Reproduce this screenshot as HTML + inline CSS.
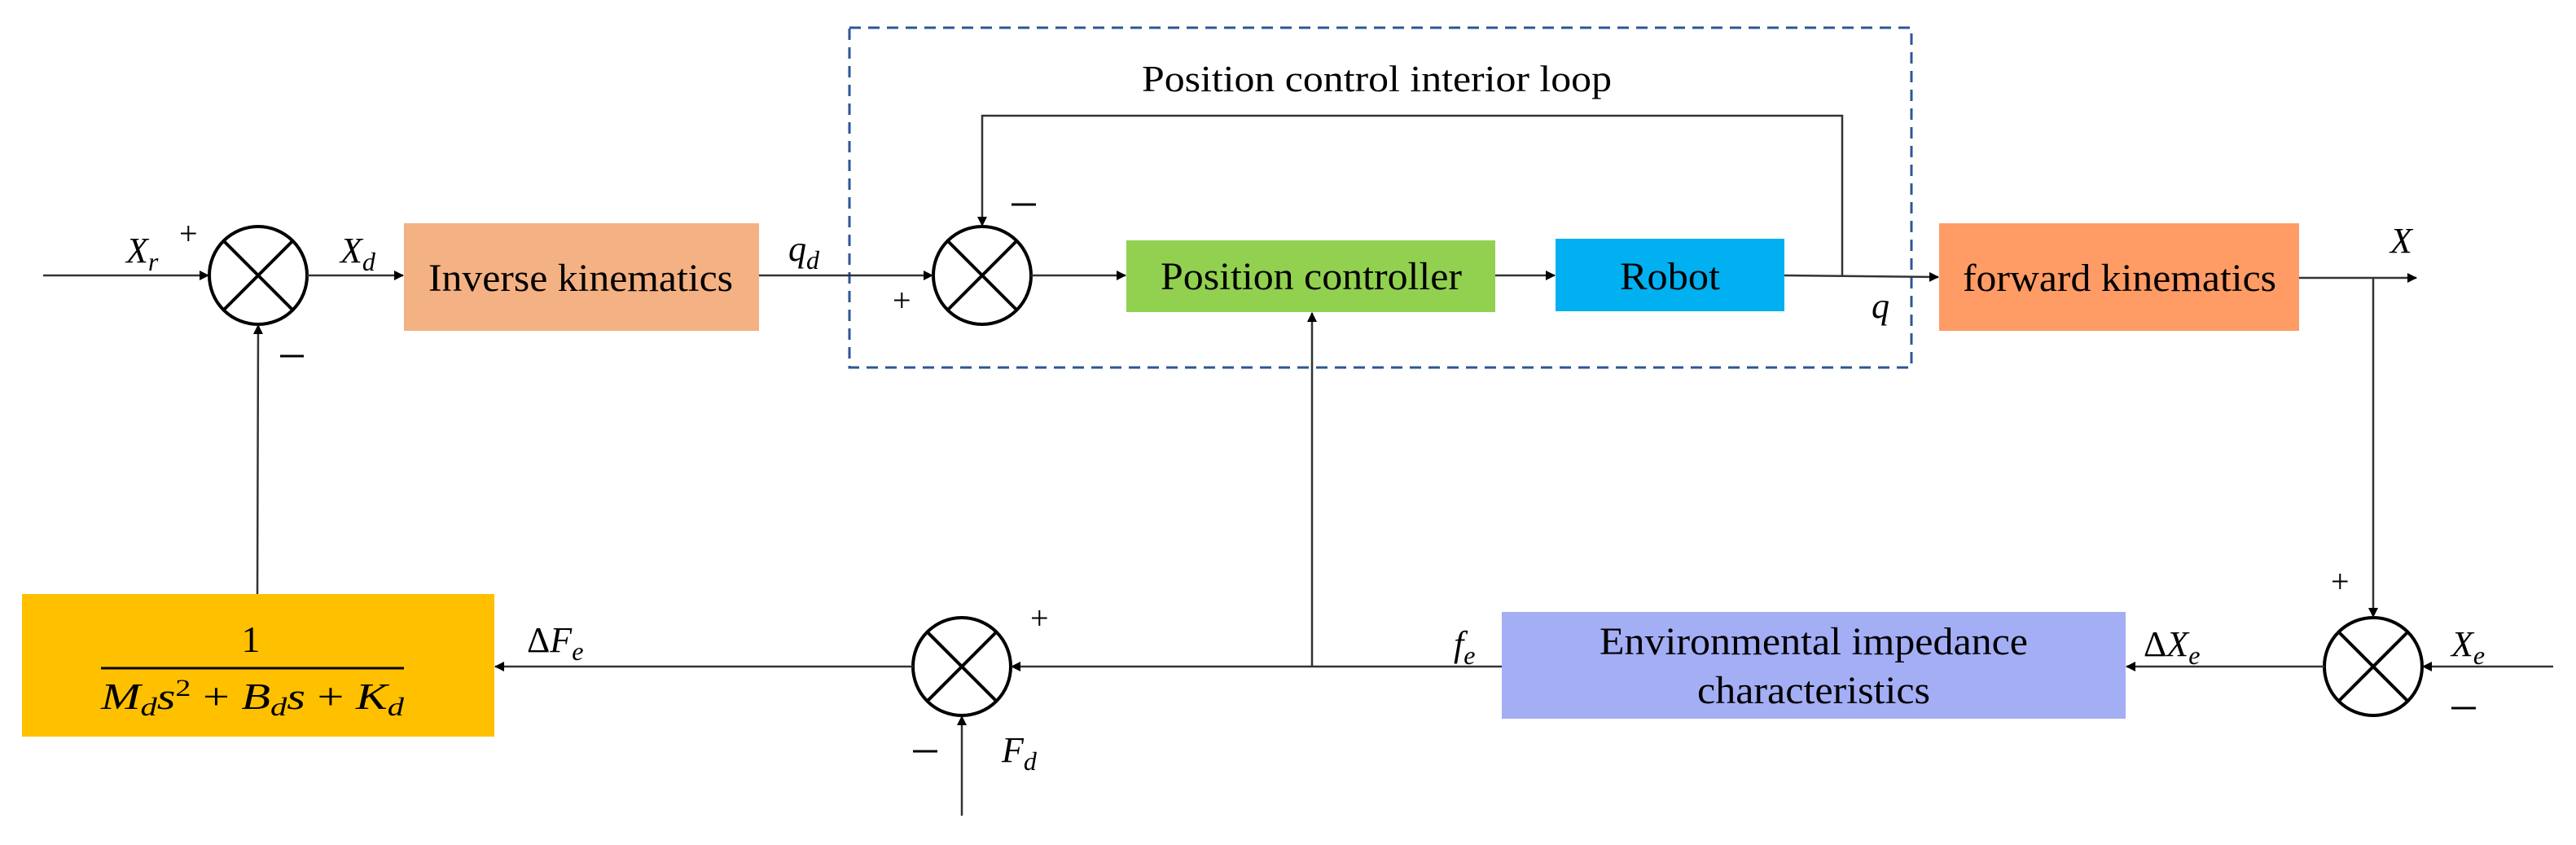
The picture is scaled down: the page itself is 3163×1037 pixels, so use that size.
<!DOCTYPE html>
<html><head><meta charset="utf-8"><style>html,body{margin:0;padding:0;background:#fff}svg{display:block}</style></head>
<body>
<svg width="3163" height="1037" viewBox="0 0 3163 1037" xmlns="http://www.w3.org/2000/svg" font-family="Liberation Serif, serif">
<defs>
<marker id="a" markerWidth="12" markerHeight="12" refX="11" refY="6" orient="auto" markerUnits="userSpaceOnUse" viewBox="0 0 12 12">
<path d="M0,0 L12,6 L0,12 z" fill="#000"/></marker>
</defs>
<rect width="3163" height="1037" fill="#fff"/>
<!-- dashed box -->
<rect x="1043" y="34" width="1304" height="417" fill="none" stroke="#2F5597" stroke-width="3" stroke-dasharray="14,9"/>
<text x="1402" y="112" font-size="46" textLength="577" lengthAdjust="spacingAndGlyphs">Position control interior loop</text>
<!-- boxes -->
<rect x="496" y="274" width="436" height="132" fill="#F4B183"/>
<rect x="1383" y="295" width="453" height="88" fill="#92D050"/>
<rect x="1910" y="293" width="281" height="89" fill="#00B0F0"/>
<rect x="2381" y="274" width="442" height="132" fill="#FF9B65"/>
<rect x="1844" y="751" width="766" height="131" fill="#A4AEF5"/>
<rect x="27" y="729" width="580" height="175" fill="#FFC000"/>
<g font-size="48">
<text x="526" y="357" textLength="374" lengthAdjust="spacingAndGlyphs">Inverse kinematics</text>
<text x="1425" y="355" textLength="370" lengthAdjust="spacingAndGlyphs">Position controller</text>
<text x="1989" y="355" textLength="123" lengthAdjust="spacingAndGlyphs">Robot</text>
<text x="2410" y="357" textLength="385" lengthAdjust="spacingAndGlyphs">forward kinematics</text>
<text x="1964" y="803" textLength="526" lengthAdjust="spacingAndGlyphs">Environmental impedance</text>
<text x="2084" y="863" textLength="286" lengthAdjust="spacingAndGlyphs">characteristics</text>
</g>
<!-- yellow fraction -->
<text x="308" y="800" font-size="46" text-anchor="middle">1</text>
<line x1="124" y1="820" x2="496" y2="820" stroke="#000" stroke-width="3"/>
<text x="124" y="870" font-size="46" font-style="italic" textLength="372" lengthAdjust="spacingAndGlyphs">M<tspan font-size="32" dy="8">d</tspan><tspan dy="-8">s</tspan><tspan font-size="30" dy="-16" font-style="normal">2</tspan><tspan dy="16" font-style="normal"> + </tspan>B<tspan font-size="32" dy="8">d</tspan><tspan dy="-8">s</tspan><tspan font-style="normal"> + </tspan>K<tspan font-size="32" dy="8">d</tspan></text>
<!-- circles -->
<g fill="none" stroke="#000" stroke-width="4">
<circle cx="317" cy="338" r="60"/>
<line x1="275" y1="296" x2="359" y2="380"/><line x1="359" y1="296" x2="275" y2="380"/>
<circle cx="1206" cy="338" r="60"/>
<line x1="1164" y1="296" x2="1248" y2="380"/><line x1="1248" y1="296" x2="1164" y2="380"/>
<circle cx="1181" cy="818" r="60"/>
<line x1="1139" y1="776" x2="1223" y2="860"/><line x1="1223" y1="776" x2="1139" y2="860"/>
<circle cx="2914" cy="818" r="60"/>
<line x1="2872" y1="776" x2="2956" y2="860"/><line x1="2956" y1="776" x2="2872" y2="860"/>
</g>
<!-- connectors -->
<g stroke="#333" stroke-width="2.5" fill="none">
<line x1="53" y1="338" x2="256" y2="338" marker-end="url(#a)"/>
<line x1="377" y1="338" x2="495" y2="338" marker-end="url(#a)"/>
<line x1="932" y1="338" x2="1145" y2="338" marker-end="url(#a)"/>
<line x1="1266" y1="338" x2="1382" y2="338" marker-end="url(#a)"/>
<line x1="1836" y1="338" x2="1909" y2="338" marker-end="url(#a)"/>
<line x1="2191" y1="338" x2="2380" y2="340" marker-end="url(#a)"/>
<polyline points="2262,338 2262,142 1206,142 1206,277" marker-end="url(#a)"/>
<line x1="2823" y1="341" x2="2967" y2="341" marker-end="url(#a)"/>
<line x1="2914" y1="341" x2="2914" y2="757" marker-end="url(#a)"/>
<line x1="3135" y1="818" x2="2975" y2="818" marker-end="url(#a)"/>
<line x1="2854" y1="818" x2="2611" y2="818" marker-end="url(#a)"/>
<line x1="1844" y1="818" x2="1242" y2="818" marker-end="url(#a)"/>
<line x1="1611" y1="818" x2="1611" y2="384" marker-end="url(#a)"/>
<line x1="1121" y1="818" x2="608" y2="818" marker-end="url(#a)"/>
<line x1="316" y1="729" x2="317" y2="399" marker-end="url(#a)"/>
<line x1="1181" y1="1001" x2="1181" y2="879" marker-end="url(#a)"/>
</g>
<!-- labels -->
<g font-size="44" font-style="italic">
<text x="155" y="322">X<tspan font-size="32" dy="10">r</tspan></text>
<text x="418" y="322">X<tspan font-size="32" dy="10">d</tspan></text>
<text x="968" y="320">q<tspan font-size="32" dy="10">d</tspan></text>
<text x="2298" y="390">q</text>
<text x="2935" y="310">X</text>
<text x="3010" y="805">X<tspan font-size="32" dy="10">e</tspan></text>
<text x="2632" y="805"><tspan font-style="normal">Δ</tspan>X<tspan font-size="32" dy="10">e</tspan></text>
<text x="1785" y="805">f<tspan font-size="32" dy="10">e</tspan></text>
<text x="647" y="800"><tspan font-style="normal">Δ</tspan>F<tspan font-size="32" dy="10">e</tspan></text>
<text x="1230" y="935">F<tspan font-size="32" dy="10">d</tspan></text>
</g>
<g font-size="40">
<text x="220" y="300">+</text>
<text x="1096" y="382">+</text>
<text x="2862" y="727">+</text>
<text x="1265" y="772">+</text>
</g>
<g stroke="#000" stroke-width="3">
<line x1="344" y1="437" x2="373" y2="437"/>
<line x1="1242" y1="251" x2="1272" y2="251"/>
<line x1="3010" y1="869" x2="3040" y2="869"/>
<line x1="1121" y1="922" x2="1151" y2="922"/>
</g>
</svg>
</body></html>
